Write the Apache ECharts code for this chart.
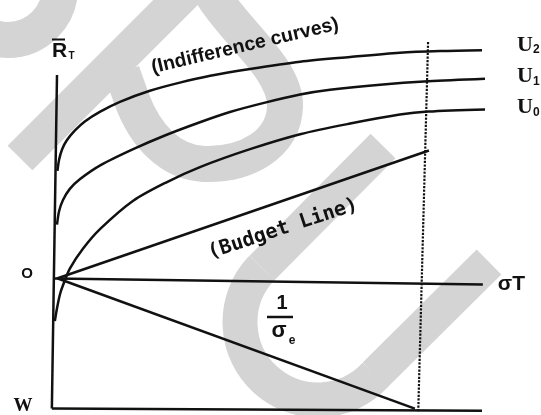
<!DOCTYPE html>
<html>
<head>
<meta charset="utf-8">
<script src="https://cdn.jsdelivr.net/npm/echarts@6/dist/echarts.min.js"></script>
<style>
  html, body { margin: 0; padding: 0; background: #ffffff; }
  #chart { width: 541px; height: 415px; }
</style>
</head>
<body>
<div id="chart"></div>
<script>
// Portfolio choice in (sigma_T, mean return R_T) space.
// Each curve is a list of [sigma_T, R_T] points.

// Indifference curves
const curveU2 = [[0.1, 25.2], [0.5, 27.9], [1.2, 30.3], [2.3, 32.4], [4.2, 34.7], [6.5, 36.8],
  [10.1, 39.1], [14.7, 41.4], [21.7, 44.0], [28.7, 45.9], [35.8, 47.5], [45.1, 49.1],
  [56.8, 50.8], [68.5, 51.9], [80.1, 52.9], [89.5, 53.3], [99.3, 53.5]];
const curveU1 = [[0, 12.6], [0.5, 15.8], [1.4, 18.4], [3.0, 21.0], [5.4, 23.3], [10.1, 26.5],
  [17.8, 30.3], [25.2, 33.5], [33.4, 36.6], [40.4, 39.0], [48.6, 41.2], [56.8, 43.1],
  [63.8, 44.2], [75.5, 45.4], [86.7, 46.2], [100, 46.8]];
const curveU0 = [[-0.5, -10.0], [0, -7.0], [0.7, -3.7], [1.4, -1.6], [3.0, 2.3], [6.1, 7.0],
  [10.1, 11.6], [17.8, 18.2], [25.7, 22.6], [33.4, 26.1], [45.1, 30.3], [56.8, 33.8],
  [68.5, 36.3], [80.1, 38.4], [86.7, 39.1], [100, 39.6]];

// Budget line and the 1/sigma_e ray below the axis
const budgetLine = [[0, 0], [86.9, 30.0]];
const inverseSigmaLine = [[0.2, 0], [83.6, -30.5]];

// Axes and reference lines
const verticalAxis = [[-1.2, -30.5], [0, 47.7]];
const sigmaAxis = [[-0.5, 0], [99.5, -1.4]];
const wealthLine = [[-1.2, -30.5], [99.3, -31.0]];
const limitLine = [[86.7, 55.4], [84.4, -31.4]];

// Curve labels
const curveNames = ['2', '1', '0'];

const INK = '#111111';
const SHADE = '#d4d4d4';

function plainLine(data, extra) {
  return Object.assign({
    type: 'line',
    data: data,
    symbol: 'none',
    showSymbol: false,
    silent: true,
    lineStyle: { color: INK, width: 2.5 },
    z: 3
  }, extra || {});
}

function uLabel(sub, offset) {
  return {
    show: true,
    distance: 0,
    offset: offset,
    formatter: '{u|U}{s|' + sub + '}',
    rich: {
      u: { fontFamily: 'Liberation Serif', fontWeight: 'bold', fontSize: 22, color: INK, lineHeight: 22 },
      s: { fontFamily: 'Liberation Sans', fontWeight: 'bold', fontSize: 12, color: INK, lineHeight: 22, verticalAlign: 'bottom' }
    }
  };
}

const deg = Math.PI / 180;

// soft grey background strokes
function shadeStroke(width, cap) {
  return { stroke: SHADE, lineWidth: width, fill: null, lineCap: cap || 'butt' };
}
const backdrop = [
  { type: 'arc', shape: { cx: 8, cy: -12, r: 52, startAngle: 0, endAngle: Math.PI, clockwise: true }, style: shadeStroke(36) },
  { type: 'line', shape: { x1: 20, y1: 158, x2: 210, y2: -32 }, style: shadeStroke(35) },
  { type: 'line', shape: { x1: 190, y1: -40, x2: 216, y2: 0 }, style: shadeStroke(36, 'round') },
  { type: 'bezierCurve', shape: { x1: 216, y1: 0, cpx1: 240, cpy1: 36, cpx2: 285, cpy2: 70, x2: 285, y2: 105 }, style: shadeStroke(36, 'round') },
  { type: 'bezierCurve', shape: { x1: 285, y1: 105, cpx1: 285, cpy1: 145, cpx2: 245, cpy2: 165, x2: 205, y2: 164 }, style: shadeStroke(36, 'round') },
  { type: 'bezierCurve', shape: { x1: 205, y1: 164, cpx1: 170, cpy1: 163, cpx2: 145, cpy2: 135, x2: 132, y2: 100 }, style: shadeStroke(36, 'round') },
  { type: 'line', shape: { x1: 132, y1: 100, x2: 122, y2: 72 }, style: shadeStroke(36) },
  { type: 'line', shape: { x1: 383, y1: 146, x2: 262, y2: 268 }, style: shadeStroke(35) },
  { type: 'arc', shape: { cx: 318, cy: 322, r: 78, startAngle: 42.5 * deg, endAngle: 224 * deg, clockwise: true }, style: shadeStroke(35) },
  { type: 'line', shape: { x1: 375, y1: 375, x2: 489, y2: 262 }, style: shadeStroke(35) }
].map(function (el) { el.z = 0; el.silent = true; return el; });

function txt(x, y, text, font, extra) {
  return Object.assign({
    type: 'text', z: 10, x: x, y: y, silent: true,
    style: { text: text, font: font, fill: INK, align: 'center', verticalAlign: 'middle' }
  }, extra || {});
}

const annotations = [
  txt(59.5, 51, 'R', 'bold 21px "Liberation Sans"'),
  { type: 'line', z: 10, silent: true, shape: { x1: 52, y1: 39.5, x2: 65, y2: 39.5 }, style: { stroke: INK, lineWidth: 2 } },
  txt(71.5, 56.5, 'T', 'bold 10px "Liberation Sans"'),
  txt(27, 273.5, 'O', 'bold 15px "Liberation Sans"'),
  txt(23, 406, 'W', 'bold 19px "Liberation Serif"'),
  txt(282, 303, '1', 'bold 20px "Liberation Sans"'),
  { type: 'line', z: 10, silent: true, shape: { x1: 267, y1: 317, x2: 293, y2: 317 }, style: { stroke: INK, lineWidth: 2.5 } },
  txt(279, 331, 'σ', 'bold 22px "Liberation Sans"'),
  txt(292, 341, 'e', 'bold 12px "Liberation Sans"'),
  txt(245, 46, '(Indifference curves)', 'bold 19.5px "Liberation Sans"', { rotation: 13.3 * deg }),
  txt(283, 229, '(Budget Line)', 'bold 20px "DejaVu Sans Mono"', { rotation: 18.3 * deg })
];

const option = {
  animation: false,
  backgroundColor: '#ffffff',
  grid: { left: 35.6, top: 39.5, width: 449.4, height: 377.96, containLabel: false },
  xAxis: { type: 'value', min: -5, max: 100, show: false },
  yAxis: { type: 'value', min: -32, max: 56, show: false },
  graphic: backdrop.concat(annotations),
  series: [
    plainLine(verticalAxis),
    plainLine(sigmaAxis, {
      endLabel: {
        show: true, distance: 0, offset: [15, 0],
        formatter: 'σT',
        fontFamily: 'Liberation Sans', fontWeight: 'bold', fontSize: 21, color: INK
      }
    }),
    plainLine(wealthLine),
    plainLine(limitLine, { lineStyle: { color: INK, width: 2.2, type: [2.2, 1.4] } }),
    plainLine(budgetLine),
    plainLine(inverseSigmaLine),
    plainLine(curveU2, { smooth: 0.3, endLabel: uLabel(curveNames[0], [35, -5]) }),
    plainLine(curveU1, { smooth: 0.3, endLabel: uLabel(curveNames[1], [32, -2]) }),
    plainLine(curveU0, { smooth: 0.3, endLabel: uLabel(curveNames[2], [32, -2]) })
  ]
};

const chart = echarts.init(document.getElementById('chart'), null, { renderer: 'canvas' });
chart.setOption(option);
</script>
</body>
</html>
